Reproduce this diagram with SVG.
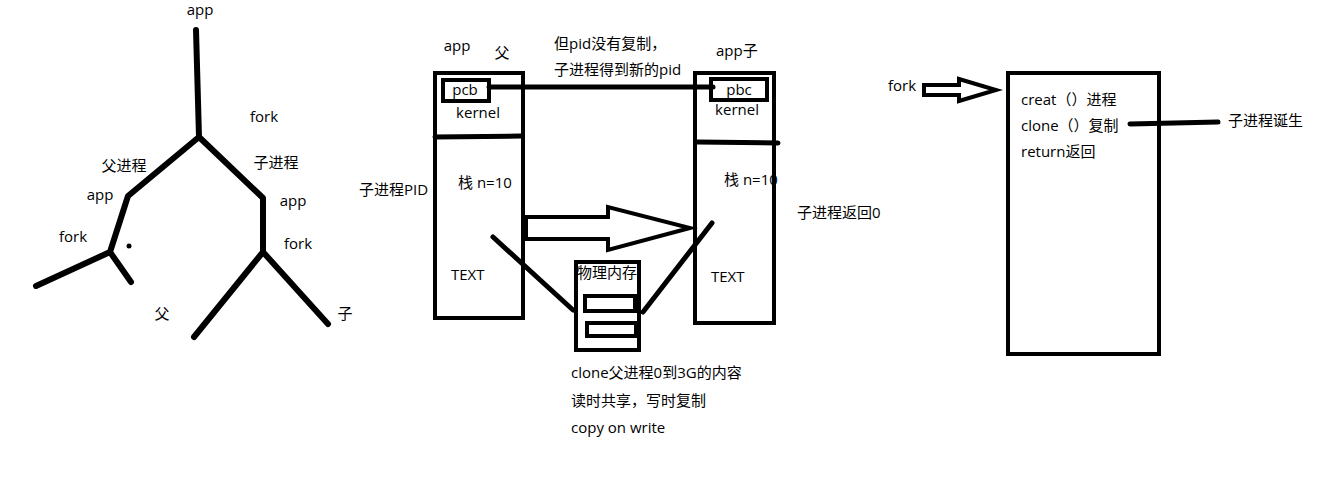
<svg xmlns="http://www.w3.org/2000/svg" width="1325" height="482" viewBox="0 0 1325 482">
<style>
text{font-family:"Open Sans","Noto Sans CJK SC",sans-serif;font-size:15px;fill:#000}
.c{text-anchor:middle}
.ln{stroke:#000;stroke-width:5;fill:none;stroke-linecap:round;stroke-linejoin:round}
.tr{stroke-width:6}
.bx{stroke:#000;stroke-width:4;fill:none}
.ar{stroke:#000;stroke-width:4;fill:#fff;stroke-linejoin:miter}
</style>
<rect width="1325" height="482" fill="#fff"/>
<g id="tree">
<path class="ln tr" d="M196,30 L199,137 M199,137 L128,196 L110,252 L36,286 M110,252 L131,282 M199,137 L263,198 L263,252 L194,337 M263,252 L328,324"/>
<circle cx="129" cy="246" r="2.5" fill="#000"/>
<text class="c" x="200" y="15">app</text>
<text class="c" x="264" y="122">fork</text>
<text class="c" x="124" y="171">父进程</text>
<text class="c" x="276" y="168">子进程</text>
<text class="c" x="100" y="200">app</text>
<text class="c" x="293" y="206">app</text>
<text class="c" x="73" y="242">fork</text>
<text class="c" x="298" y="249">fork</text>
<text class="c" x="162" y="319">父</text>
<text class="c" x="345" y="319">子</text>
</g>
<g id="parent">
<rect class="bx" x="435" y="73" width="88" height="245"/>
<rect class="bx" x="443" y="80" width="46" height="21"/>
<line class="ln" x1="435" y1="137" x2="521" y2="136"/>
<text class="c" x="457" y="51">app</text>
<text class="c" x="502" y="58">父</text>
<text class="c" x="465" y="95">pcb</text>
<text class="c" x="478" y="118">kernel</text>
<text x="458" y="188">栈 n=10</text>
<text x="451" y="280">TEXT</text>
<text x="359" y="195">子进程PID</text>
</g>
<g id="child">
<rect class="bx" x="695" y="73" width="79" height="250"/>
<rect class="bx" x="711" y="79" width="56" height="21"/>
<line class="ln" x1="697" y1="142" x2="778" y2="143"/>
<text x="716" y="56">app子</text>
<text class="c" x="739" y="95">pbc</text>
<text class="c" x="737" y="115">kernel</text>
<text x="724" y="185">栈 n=10</text>
<text x="711" y="282">TEXT</text>
<text x="797" y="218">子进程返回0</text>
</g>
<g id="memory">
<rect class="bx" x="576" y="262" width="63" height="88"/>
<rect class="bx" x="585" y="296" width="50" height="15"/>
<rect class="bx" x="587" y="323" width="49" height="13"/>
<text x="577" y="278">物理内存</text>
<text x="571" y="378">clone父进程0到3G的内容</text>
<text x="571" y="406">读时共享，写时复制</text>
<text x="571" y="433">copy on write</text>
</g>
<g id="note">
<text x="554" y="49">但pid没有复制，</text>
<text x="554" y="75">子进程得到新的pid</text>
</g>
<g id="fork-box">
<rect class="bx" x="1008" y="73" width="151" height="281"/>
<text x="888" y="91">fork</text>
<text x="1021" y="105">creat（）进程</text>
<text x="1021" y="131">clone（）复制</text>
<text x="1021" y="157">return返回</text>
<text x="1228" y="126">子进程诞生</text>
</g>
<g id="connectors">
<line class="ln" x1="489" y1="87" x2="713" y2="87"/>
<path class="ar" d="M526,217 L608,217 L608,207 L690,228 L608,250 L608,239 L526,239 Z"/>
<line class="ln" x1="493" y1="237" x2="573" y2="310"/>
<line class="ln" x1="712" y1="223" x2="643" y2="312"/>
<path class="ar" d="M924,85 L959,85 L959,79 L996,90 L959,101 L959,95 L924,95 Z"/>
<line class="ln" x1="1130" y1="124" x2="1218" y2="122"/>
</g>
</svg>
